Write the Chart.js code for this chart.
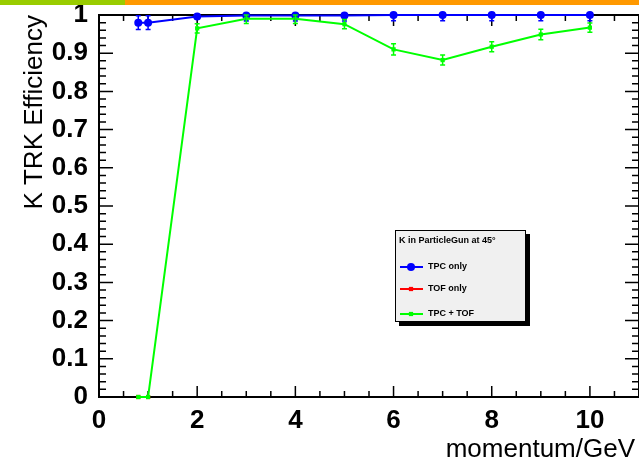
<!DOCTYPE html>
<html lang="en">
  <head>
    <meta charset="utf-8">
    <title>K TRK Efficiency</title>
    <style>
      body { margin: 0; background: #fff; }
      #wrap { position: relative; width: 639px; height: 459px; }
      .bar { position: absolute; top: 0; height: 5px; }
    </style>
  </head>
  <body>
    <div id="wrap">
      <canvas id="myChart" width="639" height="459"></canvas>
      <div class="bar" style="left:0;width:125px;background:#99cc00"></div>
      <div class="bar" style="left:125px;width:514px;background:#ff9900"></div>
    </div>

    <script src="https://cdn.jsdelivr.net/npm/chart.js@4.4.0/dist/chart.umd.min.js"></script>
    <script>
    // values
    const momentum = [0.8, 1, 2, 3, 4, 5, 6, 7, 8, 9, 10]
    const tpcOnly = [0.98, 0.98, 0.996, 0.999, 0.999, 0.999, 1, 1, 1, 1, 1]
    const tpcOnlyErr = [0.018, 0.018, 0.006, 0.015, 0.015, 0.015, 0.015, 0.015, 0.015, 0.015, 0.015]
    const tofMomentum = [0.8, 1]
    const tofOnly = [0, 0]
    const tpcTof = [0, 0, 0.965, 0.99, 0.99, 0.976, 0.91, 0.882, 0.917, 0.949, 0.967]
    const tpcTofErr = [0, 0, 0.012, 0.012, 0.012, 0.012, 0.015, 0.013, 0.013, 0.014, 0.012]

    const xTicks = [0, 2, 4, 6, 8, 10]
    const yTicks = [0, 0.1, 0.2, 0.3, 0.4, 0.5, 0.6, 0.7, 0.8, 0.9, 1]
    const yLabels = ['0', '0.1', '0.2', '0.3', '0.4', '0.5', '0.6', '0.7', '0.8', '0.9', '1']

    const legendTitle = 'K in ParticleGun at 45°'
    const xTitle = 'momentum/GeV'
    const yTitle = 'K TRK Efficiency'

    const FONT = '"Liberation Sans", Arial, sans-serif'

    function points(xs, ys) {
      return xs.map((x, i) => ({ x: x, y: ys[i] }))
    }

    // error bars with small caps, ROOT style
    const errorBars = {
      id: 'errorBars',
      afterDatasetsDraw(chart) {
        const ctx = chart.ctx
        const xs = chart.scales.x, ys = chart.scales.y
        chart.data.datasets.forEach(ds => {
          if (!ds.errors) return
          ctx.save()
          ctx.strokeStyle = ds.borderColor
          ctx.lineWidth = 1.5
          ds.data.forEach((p, i) => {
            const e = ds.errors[i]
            if (!e) return
            const px = xs.getPixelForValue(p.x)
            const top = ys.getPixelForValue(Math.min(1, p.y + e))
            const bot = ys.getPixelForValue(Math.max(0, p.y - e))
            ctx.beginPath()
            ctx.moveTo(px, top); ctx.lineTo(px, bot)
            ctx.moveTo(px - 2.5, top); ctx.lineTo(px + 2.5, top)
            ctx.moveTo(px - 2.5, bot); ctx.lineTo(px + 2.5, bot)
            ctx.stroke()
          })
          ctx.restore()
        })
      }
    }

    // frame with inward ticks on all four sides, under the data
    const frame = {
      id: 'frame',
      beforeDatasetsDraw(chart) {
        const ctx = chart.ctx
        const a = chart.chartArea
        const xs = chart.scales.x, ys = chart.scales.y
        ctx.save()
        ctx.strokeStyle = '#000'
        ctx.lineWidth = 2
        ctx.strokeRect(a.left, a.top, a.right - a.left, a.bottom - a.top)
        ctx.lineWidth = 1.5
        ctx.beginPath()
        for (let k = 0; k <= 22; k++) {
          const px = xs.getPixelForValue(k * 0.5)
          const len = k % 4 === 0 ? 11 : 6
          ctx.moveTo(px, a.bottom); ctx.lineTo(px, a.bottom - len)
          ctx.moveTo(px, a.top); ctx.lineTo(px, a.top + len)
        }
        for (let k = 0; k <= 50; k++) {
          const py = ys.getPixelForValue(k * 0.02)
          const len = k % 5 === 0 ? 14 : 7
          ctx.moveTo(a.left, py); ctx.lineTo(a.left + len, py)
          ctx.moveTo(a.right, py); ctx.lineTo(a.right - len, py)
        }
        ctx.stroke()
        ctx.restore()
      },
      afterDraw(chart) {
        const ctx = chart.ctx
        const a = chart.chartArea
        ctx.save()
        ctx.fillStyle = '#000'
        ctx.font = '26px ' + FONT
        ctx.textAlign = 'right'
        ctx.textBaseline = 'alphabetic'
        ctx.fillText(xTitle, 635, 457)
        ctx.translate(42, a.top)
        ctx.rotate(-Math.PI / 2)
        ctx.fillText(yTitle, 0, 0)
        ctx.restore()
      }
    }

    // boxed legend with drop shadow
    const legendBox = {
      id: 'legendBox',
      afterDraw(chart) {
        const ctx = chart.ctx
        const bx = 395, by = 230, bw = 131, bh = 92
        ctx.save()
        ctx.fillStyle = '#000'
        ctx.fillRect(bx + 4, by + 4, bw, bh)
        ctx.fillStyle = '#f0f0f0'
        ctx.fillRect(bx, by, bw, bh)
        ctx.strokeStyle = '#000'
        ctx.lineWidth = 1
        ctx.strokeRect(bx + 0.5, by + 0.5, bw - 1, bh - 1)
        ctx.fillStyle = '#000'
        ctx.font = 'bold 9px ' + FONT
        ctx.textBaseline = 'middle'
        ctx.fillText(legendTitle, bx + 4, by + 11)
        const rows = [by + 37, by + 59, by + 84]
        chart.data.datasets.forEach((ds, i) => {
          const y = rows[i]
          ctx.strokeStyle = ds.borderColor
          ctx.lineWidth = 2
          ctx.beginPath()
          ctx.moveTo(bx + 5, y); ctx.lineTo(bx + 28, y)
          ctx.stroke()
          ctx.fillStyle = ds.pointBackgroundColor
          Chart.helpers.drawPoint(ctx, { pointStyle: ds.pointStyle, radius: ds.pointRadius, borderWidth: 0 }, bx + 16, y)
          ctx.fillStyle = '#000'
          ctx.fillText(ds.label, bx + 33, y)
        })
        ctx.restore()
      }
    }

    const ctx = document.getElementById('myChart').getContext('2d')
    window.myChart = new Chart(ctx, {
      type: 'line',
      data: {
        datasets: [{
          label: 'TPC only',
          data: points(momentum, tpcOnly),
          errors: tpcOnlyErr,
          borderColor: '#0000ff',
          backgroundColor: '#0000ff',
          pointBackgroundColor: '#0000ff',
          pointBorderWidth: 0,
          pointStyle: 'circle',
          pointRadius: 4,
          borderWidth: 2,
          tension: 0,
          clip: 8,
          order: 3
        }, {
          label: 'TOF only',
          data: points(tofMomentum, tofOnly),
          borderColor: '#ff0000',
          backgroundColor: '#ff0000',
          pointBackgroundColor: '#ff0000',
          pointBorderWidth: 0,
          pointStyle: 'rect',
          pointRadius: 3,
          borderWidth: 2,
          tension: 0,
          clip: 8,
          order: 2
        }, {
          label: 'TPC + TOF',
          data: points(momentum, tpcTof),
          errors: tpcTofErr,
          borderColor: '#00ff00',
          backgroundColor: '#00ff00',
          pointBackgroundColor: '#00ff00',
          pointBorderWidth: 0,
          pointStyle: 'rect',
          pointRadius: 3,
          borderWidth: 2,
          tension: 0,
          clip: 8,
          order: 1
        }]
      },
      options: {
        responsive: false,
        animation: false,
        devicePixelRatio: 1,
        layout: { autoPadding: false, padding: { top: 15, right: 0, bottom: 0, left: 0 } },
        plugins: { legend: { display: false }, tooltip: { enabled: false } },
        scales: {
          x: {
            type: 'linear',
            min: 0,
            max: 11,
            grid: { display: false },
            border: { display: false },
            afterBuildTicks: s => { s.ticks = xTicks.map(v => ({ value: v })) },
            afterFit: s => { s.height = 62; s.paddingLeft = 0; s.paddingRight = 0 },
            ticks: {
              color: '#000',
              padding: 3,
              maxRotation: 0,
              autoSkip: false,
              font: { family: FONT, size: 26, weight: 'bold', lineHeight: 1 }
            }
          },
          y: {
            type: 'linear',
            min: 0,
            max: 1,
            grid: { display: false },
            border: { display: false },
            afterBuildTicks: s => { s.ticks = yTicks.map(v => ({ value: v })) },
            afterFit: s => { s.width = 99; s.paddingTop = 0; s.paddingBottom = 0 },
            ticks: {
              color: '#000',
              padding: 3,
              autoSkip: false,
              callback: (v, i) => yLabels[i],
              font: { family: FONT, size: 26, weight: 'bold', lineHeight: 1 }
            }
          }
        }
      },
      plugins: [errorBars, frame, legendBox]
    })
    </script>
  </body>
</html>
